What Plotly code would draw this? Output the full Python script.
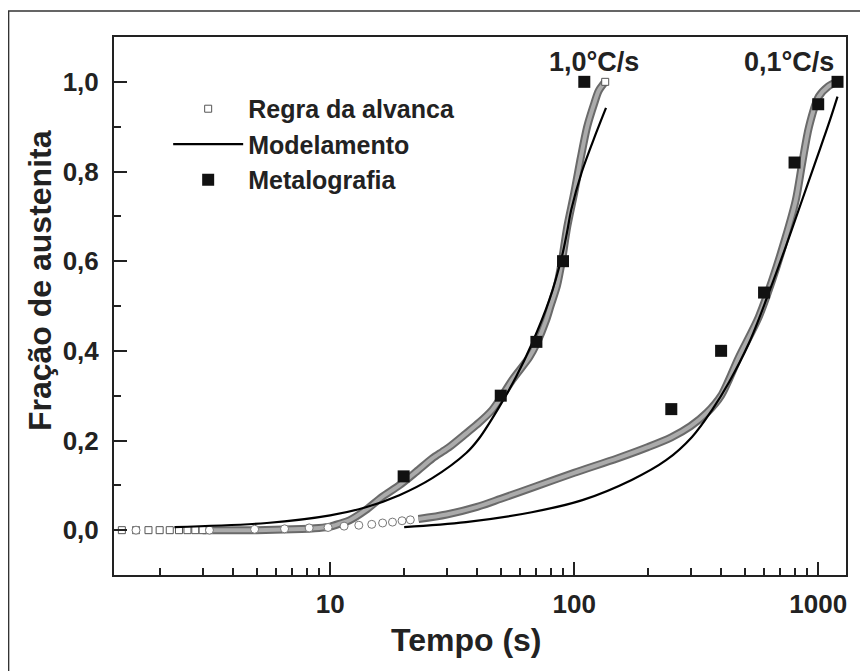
import plotly.graph_objects as go
import math

# ---------------- data ----------------
# Regra da alavanca, 1.0 C/s : isolated open squares
regra10_sq_t = [1.4, 1.6, 1.8, 2.0, 2.2, 2.4, 2.6, 2.8, 3.0]
regra10_sq_f = [0, 0, 0, 0, 0, 0, 0, 0, 0]
# Regra da alavanca, 1.0 C/s : dense band
regra10_t = [3.0, 5.0, 7.0, 9.0, 10.0, 11.0, 12.0, 14.0, 16.3, 19.2, 22.5, 26.2, 28.8,
             30.7, 36.1, 40.8, 46.1, 50.0, 55.7, 65.5, 70.0, 76.8, 80.0, 85.0, 89.0, 93.6,
             100.0, 106.0, 113.0, 121.0, 126.0, 134.0]
regra10_f = [0.0, 0.0, 0.002, 0.005, 0.008, 0.015, 0.022, 0.045, 0.074, 0.10, 0.13, 0.16, 0.175,
             0.185, 0.216, 0.24, 0.268, 0.295, 0.335, 0.386, 0.415, 0.469, 0.50, 0.545, 0.60, 0.676,
             0.752, 0.826, 0.90, 0.953, 0.98, 1.0]

# Regra da alavanca, 0.1 C/s : isolated open circles
regra01_ci_t = [1.6, 3.2, 4.9, 6.5, 8.2, 9.8, 11.4, 13.1, 14.8, 16.4, 18.0, 19.7, 21.3]
regra01_ci_f = [0, 0, 0.002, 0.003, 0.005, 0.006, 0.009, 0.011, 0.013, 0.016, 0.018, 0.021, 0.023]
# Regra da alavanca, 0.1 C/s : dense band
regra01_t = [23, 30, 40, 50, 70, 100, 150, 200, 250, 300, 350, 400, 473, 570, 648, 736,
             810, 860, 917, 1005, 1100, 1190]
regra01_f = [0.025, 0.035, 0.052, 0.07, 0.098, 0.128, 0.16, 0.185, 0.207, 0.232, 0.262, 0.30,
             0.386, 0.475, 0.558, 0.654, 0.737, 0.819, 0.90, 0.967, 0.99, 1.0]

# Modelamento
model10_t = [2.3, 5.5, 10, 14, 19.2, 26.2, 36.1, 40.8, 49.3, 57.8, 67.2, 79, 89, 93.5, 97.2,
             107.6, 123, 135]
model10_f = [0.007, 0.016, 0.033, 0.051, 0.078, 0.116, 0.172, 0.205, 0.275, 0.342, 0.417,
             0.513, 0.61, 0.665, 0.714, 0.80, 0.886, 0.942]
model01_t = [20.1, 36, 67, 108, 172, 238, 304, 367, 431, 520, 627, 736, 860, 981, 1110, 1200]
model01_f = [0.007, 0.018, 0.04, 0.067, 0.112, 0.156, 0.208, 0.268, 0.33, 0.417, 0.529,
             0.632, 0.737, 0.826, 0.91, 0.967]

# Metalografia
metal10_t = [20, 50, 70, 90, 110]
metal10_f = [0.12, 0.30, 0.42, 0.60, 1.0]
metal01_t = [250, 400, 600, 800, 1000, 1200]
metal01_f = [0.27, 0.40, 0.53, 0.82, 0.95, 1.0]

y_ticks = [0.0, 0.2, 0.4, 0.6, 0.8, 1.0]
y_ticktext = ["0,0", "0,2", "0,4", "0,6", "0,8", "1,0"]
x_ticks = [10, 100, 1000]
x_ticktext = ["10", "100", "1000"]
labels = ["1,0°C/s", "0,1°C/s"]
x_title = "Tempo (s)"
y_title = "Fração de austenita"

FONT = "Liberation Sans, Arial, sans-serif"
INK = "#222222"

fig = go.Figure()

# bands (Regra da alavanca, dense part)
for t, f in [(regra10_t, regra10_f), (regra01_t, regra01_f)]:
    fig.add_trace(go.Scatter(x=t, y=f, mode="lines", line=dict(color="#6a6a6a", width=8, shape="spline", smoothing=0.8),
                             showlegend=False, hoverinfo="skip"))
    fig.add_trace(go.Scatter(x=t, y=f, mode="lines", line=dict(color="#ababab", width=4, shape="spline", smoothing=0.8),
                             showlegend=False, hoverinfo="skip"))

# isolated open squares (legend entry)
fig.add_trace(go.Scatter(x=regra10_sq_t, y=regra10_sq_f, mode="markers", name="Regra da alvanca",
                         marker=dict(symbol="square", size=7, color="white",
                                     line=dict(color="#555555", width=1)), legendrank=1))
# isolated open circles
fig.add_trace(go.Scatter(x=regra01_ci_t, y=regra01_ci_f, mode="markers", showlegend=False,
                         marker=dict(symbol="circle", size=8, color="white",
                                     line=dict(color="#777777", width=1))))
# white end marker of the 1.0 band
fig.add_trace(go.Scatter(x=regra10_t[-1:], y=regra10_f[-1:], mode="markers", showlegend=False,
                         marker=dict(symbol="square", size=7, color="white",
                                     line=dict(color="#555555", width=1))))

# model lines
fig.add_trace(go.Scatter(x=model10_t, y=model10_f, mode="lines", name="Modelamento",
                         line=dict(color="black", width=2.2, shape="spline"), legendrank=2))
fig.add_trace(go.Scatter(x=model01_t, y=model01_f, mode="lines", showlegend=False,
                         line=dict(color="black", width=2.2, shape="spline")))

# metallography
fig.add_trace(go.Scatter(x=metal10_t, y=metal10_f, mode="markers", name="Metalografia",
                         marker=dict(symbol="square", size=12, color="#111111"), legendrank=3))
fig.add_trace(go.Scatter(x=metal01_t, y=metal01_f, mode="markers", showlegend=False,
                         marker=dict(symbol="square", size=12, color="#111111")))

minor_x = [m * d for d in (1, 10, 100) for m in range(2, 10)]

fig.update_layout(
    width=868, height=671,
    margin=dict(l=106, r=30, t=29, b=104),
    paper_bgcolor="white", plot_bgcolor="white",
    font=dict(family=FONT, color=INK, size=26, weight="bold"),
    showlegend=True,
    legend=dict(x=0.074, y=0.909, xanchor="left", yanchor="top", bgcolor="rgba(0,0,0,0)",
                font=dict(size=25, family=FONT, color=INK, weight="bold"),
                itemwidth=70, tracegroupgap=0),
    xaxis=dict(type="log", range=[math.log10(1.3), math.log10(1300)],
               tickvals=x_ticks, ticktext=x_ticktext,
               ticks="inside", ticklen=13, tickwidth=2, tickcolor=INK,
               showline=True, linecolor=INK, linewidth=2, mirror=True,
               showgrid=False, zeroline=False,
               tickfont=dict(size=26, family=FONT, weight="bold"), ticklabelstandoff=5,
               minor=dict(tickvals=minor_x, ticks="inside", ticklen=7, tickwidth=2,
                          tickcolor=INK, showgrid=False)),
    yaxis=dict(range=[-0.1, 1.1], tickvals=y_ticks, ticktext=y_ticktext,
               ticks="inside", ticklen=13, tickwidth=2, tickcolor=INK,
               showline=True, linecolor=INK, linewidth=2, mirror=True,
               showgrid=False, zeroline=False,
               tickfont=dict(size=26, family=FONT, weight="bold"), ticklabelstandoff=8,
               minor=dict(tickvals=[0.1, 0.3, 0.5, 0.7, 0.9], ticks="inside", ticklen=7,
                          tickwidth=2, tickcolor=INK, showgrid=False)),
    annotations=[
        dict(x=math.log10(120), y=1.045, xref="x", yref="y", text=labels[0], showarrow=False,
             font=dict(size=27, family=FONT, weight="bold", color=INK)),
        dict(x=math.log10(760), y=1.045, xref="x", yref="y", text=labels[1], showarrow=False,
             font=dict(size=27, family=FONT, weight="bold", color=INK)),
        dict(x=0.481, y=-0.121, xref="paper", yref="paper", text=x_title, showarrow=False,
             xanchor="center", yanchor="middle",
             font=dict(size=32, family=FONT, weight="bold", color=INK)),
        dict(x=-0.101, y=0.5465, xref="paper", yref="paper", text=y_title, showarrow=False,
             textangle=-90, xanchor="center", yanchor="middle",
             font=dict(size=32, family=FONT, weight="bold", color=INK)),
    ],
    shapes=[
        dict(type="rect", xref="paper", yref="paper", x0=-0.1440, x1=1.3, y0=-0.4, y1=1.0483,
             line=dict(color="#333333", width=1.5), fillcolor="rgba(0,0,0,0)", layer="below"),
    ],
)

fig.write_html("out.html")
